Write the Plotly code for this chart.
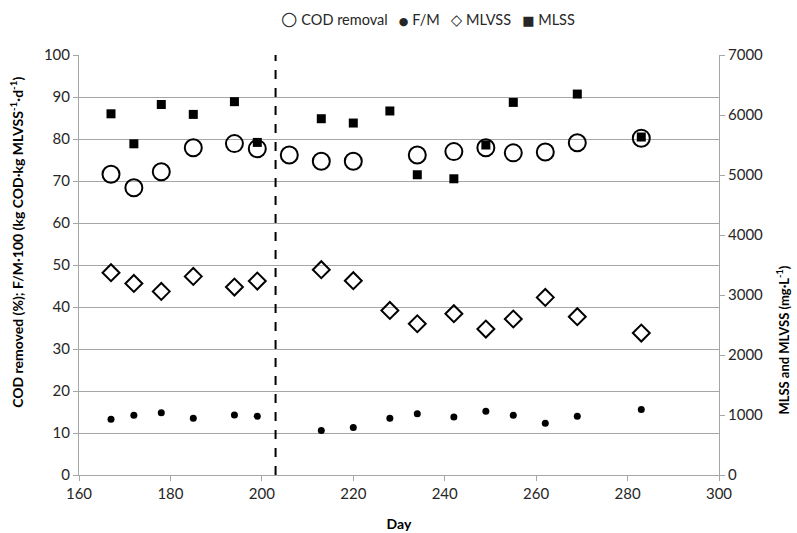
import plotly.graph_objects as go

# ---- data ----
cod_days = [167, 172, 178, 185, 194, 199, 206, 213, 220, 234, 242, 249, 255, 262, 269, 283]
cod_removal = [71.6, 68.4, 72.2, 77.9, 78.9, 77.7, 76.2, 74.7, 74.7, 76.2, 77.0, 77.9, 76.7, 76.9, 79.1, 80.2]

fm_days = [167, 172, 178, 185, 194, 199, 213, 220, 228, 234, 242, 249, 255, 262, 269, 283]
fm_x100 = [13.3, 14.2, 14.8, 13.5, 14.3, 14.0, 10.6, 11.3, 13.5, 14.6, 13.8, 15.2, 14.2, 12.3, 14.0, 15.6]

ss_days = [167, 172, 178, 185, 194, 199, 213, 220, 228, 234, 242, 249, 255, 262, 269, 283]
mlvss = [3372, 3193, 3060, 3310, 3133, 3233, 3422, 3238, 2743, 2521, 2688, 2433, 2600, 2960, 2638, 2366]
mlss_days = [167, 172, 178, 185, 194, 199, 213, 220, 228, 234, 242, 249, 255, 269, 283]
mlss = [6020, 5520, 6175, 6010, 6222, 5543, 5938, 5866, 6067, 5004, 4937, 5500, 6210, 6349, 5633]

phase_change_day = 203

legend_names = ["COD removal", "F/M", "MLVSS", "MLSS"]
legend_glyphs = ["○", "●", "◇", "■"]
legend_glyph_sizes = [19, 11, 15, 13]

x_range = [160, 300]
left_range = [0, 100]
right_range = [0, 7000]

FONT = "Lato, 'Open Sans', sans-serif"
TXT = "#262626"
GRID = "#a6a6a6"

fig = go.Figure()
fig.add_trace(go.Scatter(x=cod_days, y=cod_removal, mode="markers", name=legend_names[0],
                         marker=dict(symbol="circle-open", size=17, color="black", line=dict(width=2, color="black"))))
fig.add_trace(go.Scatter(x=fm_days, y=fm_x100, mode="markers", name=legend_names[1],
                         marker=dict(symbol="circle", size=7, color="black")))
fig.add_trace(go.Scatter(x=ss_days, y=mlvss, mode="markers", name=legend_names[2], yaxis="y2",
                         marker=dict(symbol="diamond-open", size=13, color="black", line=dict(width=2, color="black"))))
fig.add_trace(go.Scatter(x=mlss_days, y=mlss, mode="markers", name=legend_names[3], yaxis="y2",
                         marker=dict(symbol="square", size=9, color="black")))

fig.add_shape(type="line", xref="x", yref="y", x0=phase_change_day, x1=phase_change_day,
              y0=left_range[0], y1=left_range[1], line=dict(color="black", width=2, dash="dash"))

fig.update_layout(
    width=797, height=533,
    margin=dict(l=79, r=78, t=55, b=58, autoexpand=False),
    paper_bgcolor="white", plot_bgcolor="white",
    font=dict(family=FONT, size=15, color=TXT),
    showlegend=False,
    xaxis=dict(range=x_range, dtick=20, showgrid=False, zeroline=False, automargin=False,
               showline=True, linecolor=GRID, linewidth=1, ticks="outside", tickcolor=GRID,
               ticklen=5, tickfont=dict(size=15, color=TXT),
               title=dict(text="<b>Day</b>", font=dict(size=14, color="black"), standoff=18)),
    yaxis=dict(range=left_range, dtick=10, showgrid=True, gridcolor=GRID, gridwidth=1,
               zeroline=False, showline=True, linecolor=GRID, linewidth=1, automargin=False,
               ticks="outside", tickcolor=GRID, ticklen=5, tickfont=dict(size=15, color=TXT)),
    yaxis2=dict(range=right_range, dtick=1000, overlaying="y", side="right", showgrid=False,
                zeroline=False, showline=True, linecolor=GRID, linewidth=1, automargin=False,
                ticks="outside", tickcolor=GRID, ticklen=5, tickfont=dict(size=15, color=TXT)),
)

# legend drawn as a single text line (Excel-style compact legend)
parts = [f'<span style="font-size:{s}px;font-family:DejaVu Sans">{g}</span> {n}'
         for g, n, s in zip(legend_glyphs, legend_names, legend_glyph_sizes)]
legend_text = "\u00a0\u00a0\u00a0".join(parts)
fig.add_annotation(text=legend_text, xref="paper", yref="paper", x=0.545, y=1.088,
                   xanchor="center", yanchor="middle", showarrow=False,
                   font=dict(size=14.5, color=TXT))

fig.add_annotation(text="<b>COD removed (%); F/M·100 (kg COD·kg MLVSS<sup>-1</sup>·d<sup>-1</sup>)</b>",
                   xref="paper", yref="paper", x=-0.097, y=0.555, textangle=-90,
                   showarrow=False, font=dict(size=14, color="black"), xanchor="center", yanchor="middle")
fig.add_annotation(text="<b>MLSS and MLVSS (mg·L<sup>-1</sup>)</b>",
                   xref="paper", yref="paper", x=1.1, y=0.32, textangle=-90,
                   showarrow=False, font=dict(size=13, color="black"), xanchor="center", yanchor="middle")

fig.write_html("out.html")
